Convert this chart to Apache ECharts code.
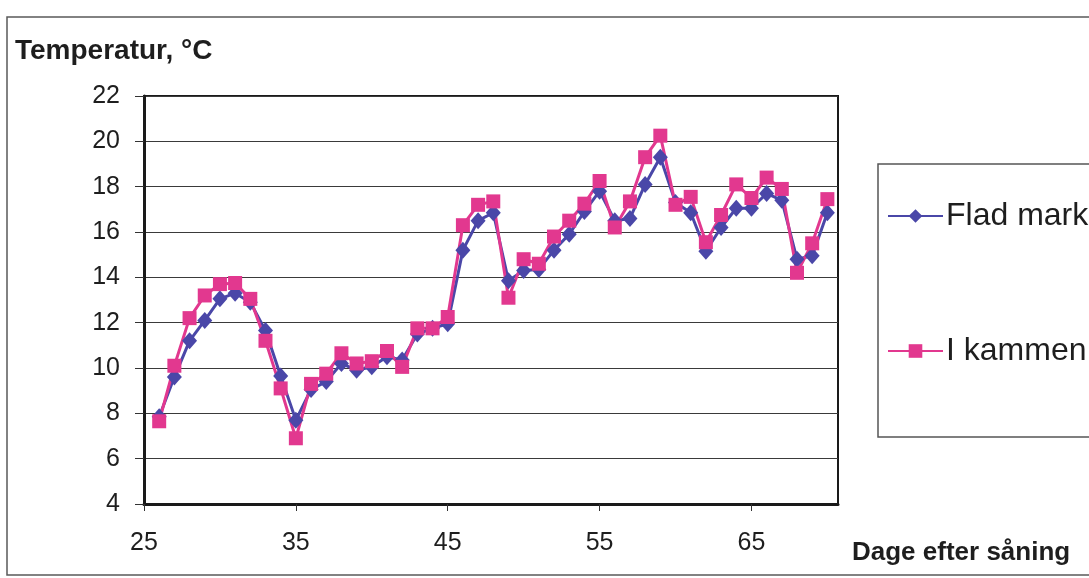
<!DOCTYPE html>
<html>
<head>
<meta charset="utf-8">
<script src="https://cdn.jsdelivr.net/npm/echarts@6/dist/echarts.min.js"></script>
<style>
  html, body { margin: 0; padding: 0; background: #ffffff; }
  #chart { width: 1089px; height: 578px; }
</style>
</head>
<body>
<div id="chart"></div>
<script>
// Days after sowing
const days = [26, 27, 28, 29, 30, 31, 32, 33, 34, 35, 36, 37, 38, 39, 40, 41, 42, 43, 44, 45,
              46, 47, 48, 49, 50, 51, 52, 53, 54, 55, 56, 57, 58, 59, 60, 61, 62, 63, 64, 65,
              66, 67, 68, 69, 70];

// Soil temperature, flat ground (°C)
const fladMark = [7.85, 9.6, 11.2, 12.1, 13.05, 13.3, 12.9, 11.65, 9.65, 7.7,
                  9.05, 9.4, 10.2, 9.9, 10.05, 10.5, 10.35, 11.5, 11.75, 11.95,
                  15.2, 16.5, 16.85, 13.85, 14.3, 14.35, 15.2, 15.9, 16.9, 17.8,
                  16.5, 16.6, 18.1, 19.3, 17.3, 16.85, 15.15, 16.2, 17.05, 17.05,
                  17.7, 17.4, 14.8, 14.95, 16.85];

// Soil temperature, in the ridge (°C)
const iKammen = [7.65, 10.1, 12.2, 13.2, 13.7, 13.75, 13.05, 11.2, 9.1, 6.9,
                 9.3, 9.75, 10.65, 10.2, 10.3, 10.75, 10.05, 11.75, 11.75, 12.25,
                 16.3, 17.2, 17.35, 13.1, 14.8, 14.6, 15.8, 16.5, 17.25, 18.25,
                 16.2, 17.35, 19.3, 20.25, 17.2, 17.55, 15.55, 16.75, 18.1, 17.5,
                 18.4, 17.9, 14.2, 15.5, 17.45];

const xTickLabels = [25, 35, 45, 55, 65];
const seriesNames = ['Flad mark', 'I kammen'];

const FONT = '"Liberation Sans", Arial, sans-serif';
const BLUE = '#4a47a8';
const PINK = '#e2388f';

const chart = echarts.init(document.getElementById('chart'), null, { renderer: 'canvas' });

const pairs = (ys) => days.map((d, i) => [d, ys[i]]);

chart.setOption({
  backgroundColor: '#ffffff',
  animation: false,
  title: {
    text: 'Temperatur, °C',
    left: 10,
    top: 32,
    textStyle: { fontFamily: FONT, fontSize: 28, fontWeight: 'bold', color: '#1e1e1e' }
  },
  graphic: [
    {
      type: 'rect',
      silent: true,
      shape: { x: 7, y: 17, width: 1120, height: 558 },
      style: { fill: 'none', stroke: '#5a5a5a', lineWidth: 1.5 }
    },
    {
      type: 'text',
      left: 852,
      top: 540,
      style: {
        text: 'Dage efter såning',
        font: 'bold 26px ' + FONT,
        fill: '#1e1e1e'
      }
    }
  ],
  legend: {
    orient: 'vertical',
    left: 878,
    top: 164,
    padding: [36, 60, 70, 9],
    itemGap: 103,
    itemWidth: 55,
    itemHeight: 17,
    backgroundColor: '#ffffff',
    borderColor: '#555555',
    borderWidth: 1.5,
    textStyle: { fontFamily: FONT, fontSize: 32, color: '#1e1e1e', padding: [0, 0, 0, -2] },
    data: seriesNames
  },
  grid: {
    left: 144,
    top: 96,
    right: 251,
    bottom: 74,
    show: true,
    borderColor: '#1a1a1a',
    borderWidth: 2,
    backgroundColor: 'transparent'
  },
  xAxis: {
    type: 'value',
    min: 25,
    max: 70.7,
    interval: 10,
    axisLine: { onZero: false, lineStyle: { color: '#1a1a1a', width: 3 } },
    axisTick: { show: true, length: 7, inside: false, customValues: xTickLabels,
                lineStyle: { color: '#333', width: 1 } },
    axisLabel: { customValues: xTickLabels, margin: 27, fontFamily: FONT, fontSize: 25, color: '#1e1e1e' },
    splitLine: { show: false }
  },
  yAxis: {
    type: 'value',
    min: 4,
    max: 22,
    interval: 2,
    axisLine: { show: true, lineStyle: { color: '#1a1a1a', width: 3 } },
    axisTick: { show: true, length: 9, inside: false, lineStyle: { color: '#333', width: 1 } },
    axisLabel: { margin: 24, fontFamily: FONT, fontSize: 25, color: '#1e1e1e' },
    splitLine: { show: true, lineStyle: { color: '#3a3a3a', width: 1 } }
  },
  series: [
    {
      name: seriesNames[0],
      type: 'line',
      data: pairs(fladMark),
      symbol: 'diamond',
      symbolSize: [15, 17],
      color: BLUE,
      lineStyle: { color: BLUE, width: 3 },
      itemStyle: { color: BLUE, borderWidth: 0 }
    },
    {
      name: seriesNames[1],
      type: 'line',
      data: pairs(iKammen),
      symbol: 'rect',
      symbolSize: 14,
      color: PINK,
      lineStyle: { color: PINK, width: 3 },
      itemStyle: { color: PINK, borderWidth: 0 }
    }
  ]
});
</script>
</body>
</html>
